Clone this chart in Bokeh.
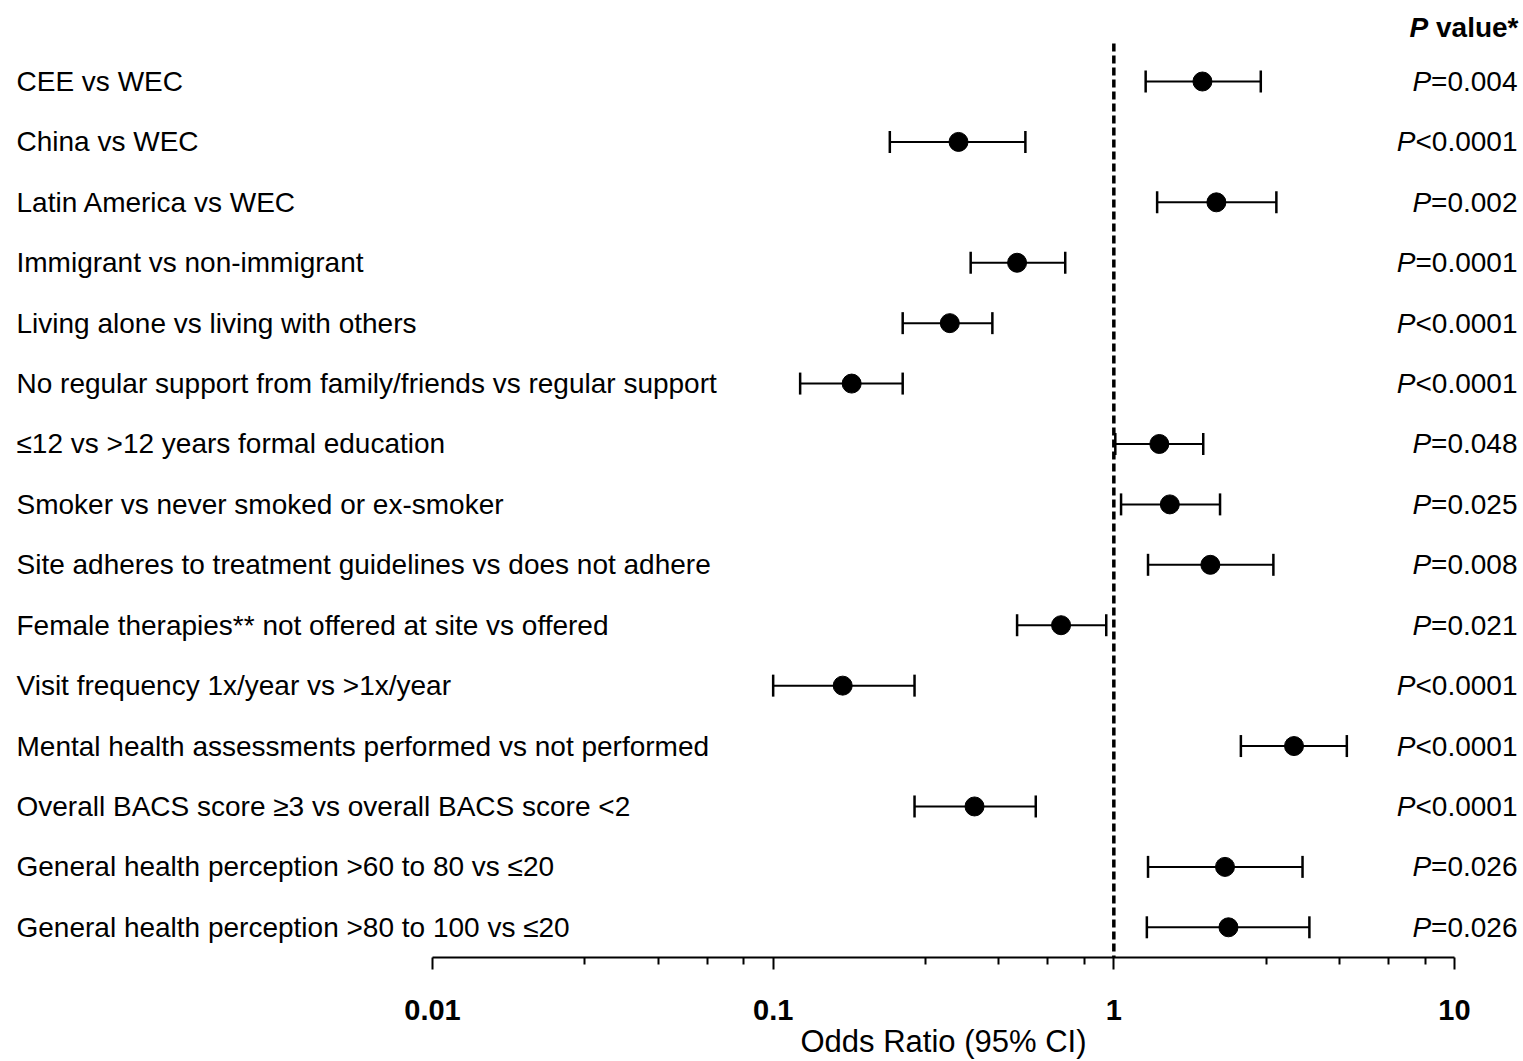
from math import pi, log10
from bokeh.plotting import figure
from bokeh.models import Range1d, LinearScale, FixedTicker, CustomJSTickFormatter
from bokeh.core.properties import value
from bokeh.embed import file_html
from bokeh.resources import INLINE

# ---------------- data ----------------
categories = [
    "CEE vs WEC",
    "China vs WEC",
    "Latin America vs WEC",
    "Immigrant vs non-immigrant",
    "Living alone vs living with others",
    "No regular support from family/friends vs regular support",
    "\u226412 vs >12 years formal education",
    "Smoker vs never smoked or ex-smoker",
    "Site adheres to treatment guidelines vs does not adhere",
    "Female therapies** not offered at site vs offered",
    "Visit frequency 1x/year vs >1x/year",
    "Mental health assessments performed vs not performed",
    "Overall BACS score \u22653 vs overall BACS score <2",
    "General health perception >60 to 80 vs \u226420",
    "General health perception >80 to 100 vs \u226420",
]
odds_ratio = [1.82, 0.35, 2.00, 0.52, 0.33, 0.17, 1.36, 1.46, 1.92, 0.70, 0.16, 3.38, 0.39, 2.12, 2.17]
ci_lower = [1.24, 0.22, 1.34, 0.38, 0.24, 0.12, 1.01, 1.05, 1.26, 0.52, 0.10, 2.36, 0.26, 1.26, 1.25]
ci_upper = [2.70, 0.55, 3.00, 0.72, 0.44, 0.24, 1.83, 2.05, 2.94, 0.95, 0.26, 4.83, 0.59, 3.58, 3.75]
p_sign = ["=", "<", "=", "=", "<", "<", "=", "=", "=", "=", "<", "<", "<", "=", "="]
p_value = ["0.004", "0.0001", "0.002", "0.0001", "0.0001", "0.0001", "0.048", "0.025",
           "0.008", "0.021", "0.0001", "0.0001", "0.0001", "0.026", "0.026"]
major_ticks = [0.01, 0.1, 1, 10]
tick_labels = ["0.01", "0.1", "1", "10"]
minor_ticks = [0.028, 0.046, 0.064, 0.082, 0.28, 0.46, 0.64, 0.82, 2.8, 4.6, 6.4, 8.2]
x_title = "Odds Ratio (95% CI)"
p_header_italic = "P"
p_header_rest = "value*"
ref_value = 1

# ---------------- layout (canvas pixels) ----------------
W, H = 1523, 1061
AXIS_LEFT, AXIS_RIGHT = 432, 1454   # canvas x of 0.01 and 10
AXIS_Y = 957                        # canvas y of the x axis line
FIRST_ROW_Y = 81                    # canvas y of the first row
REF_TOP = 43                        # canvas y where the dashed line starts
LABEL_X = 16
PVAL_RIGHT = 1517
HEADER_Y = 27
TITLE_Y = 1041
FONT = "Liberation Sans"
FS = 28

n = len(categories)
rows = list(range(1, n + 1))

decade_px = (AXIS_RIGHT - AXIS_LEFT) / (log10(major_ticks[-1]) - log10(major_ticks[0]))
x_lo = 10 ** (log10(major_ticks[0]) - AXIS_LEFT / decade_px)
x_hi = 10 ** (log10(major_ticks[-1]) + (W - AXIS_RIGHT) / decade_px)
row_px = (AXIS_Y - FIRST_ROW_Y) / (n + 0.5 - 1)
y_top = 1 - FIRST_ROW_Y / row_px
y_bottom = n + 0.5 + (H - AXIS_Y) / row_px

# Arial / Liberation Sans advance widths (1/1000 em)
ADV = {"=": 584, "<": 584, ".": 278, " ": 278}
for d in "0123456789":
    ADV[d] = 556
ADV_BOLD = {"v": 556, "a": 556, "l": 278, "u": 611, "e": 556, "*": 389, " ": 278}


def text_width(s, size, table=ADV):
    return sum(table.get(c, 556) for c in s) * size / 1000.0


p = figure(width=W, height=H, x_axis_type="log",
           x_range=Range1d(x_lo, x_hi), y_range=Range1d(y_bottom, y_top),
           y_axis_location=None, toolbar_location=None, output_backend="svg",
           min_border_left=0, min_border_right=0, min_border_top=0, min_border_bottom=0)
p.extra_x_ranges = {"px": Range1d(0, W)}
p.extra_x_scales = {"px": LinearScale()}
p.extra_y_ranges = {"py": Range1d(H, 0)}
p.extra_y_scales = {"py": LinearScale()}
p.outline_line_color = None
p.background_fill_color = "white"
p.border_fill_color = "white"
p.grid.visible = False

# axis (drawn at the bottom of the rows)
ax = p.xaxis[0]
ax.fixed_location = n + 0.5
ax.bounds = (major_ticks[0], major_ticks[-1])
ax.ticker = FixedTicker(ticks=major_ticks, minor_ticks=minor_ticks)
ax.formatter = CustomJSTickFormatter(args=dict(vals=major_ticks, labels=tick_labels), code="""
    for (let i = 0; i < vals.length; i++) {
        if (Math.abs(Math.log10(tick) - Math.log10(vals[i])) < 1e-6) { return labels[i]; }
    }
    return "";
""")
ax.axis_line_width = 2
ax.axis_line_color = "black"
ax.major_tick_line_width = 2
ax.minor_tick_line_width = 2
ax.major_tick_line_color = "black"
ax.minor_tick_line_color = "black"
ax.major_tick_out = 12
ax.major_tick_in = 0
ax.minor_tick_out = 7
ax.minor_tick_in = 0
ax.major_label_text_font = FONT
ax.major_label_text_font_size = "29px"
ax.major_label_text_font_style = "bold"
ax.major_label_text_color = "black"
ax.major_label_standoff = 30

# axis title
p.text(x=[(AXIS_LEFT + AXIS_RIGHT) / 2], y=[TITLE_Y], text=[x_title],
       x_range_name="px", y_range_name="py", text_font=value(FONT),
       text_font_size=value("31px"), text_color="black", text_align="center",
       text_baseline="middle")

# reference line at OR = 1
p.segment(x0=[ref_value], x1=[ref_value], y0=[REF_TOP], y1=[AXIS_Y], y_range_name="py",
          line_color="black", line_width=3.5, line_dash="8 4")

# error bars
p.segment(x0=ci_lower, y0=rows, x1=ci_upper, y1=rows, line_color="black", line_width=2)
p.scatter(x=ci_lower + ci_upper, y=rows + rows, marker="dash", angle=pi / 2,
          size=22, line_color="black", line_width=2.5)
# points
p.scatter(x=odds_ratio, y=rows, size=19, fill_color="black", line_color="black", line_width=1)

# row labels
p.text(x=[LABEL_X] * n, y=rows, text=categories, x_range_name="px",
       text_font=value(FONT), text_font_size=value(f"{FS}px"), text_color="black",
       text_align="left", text_baseline="middle")

# p-values: italic "P" followed by the upright rest
rests = [s + v for s, v in zip(p_sign, p_value)]
p.text(x=[PVAL_RIGHT] * n, y=rows, text=rests, x_range_name="px",
       text_font=value(FONT), text_font_size=value(f"{FS}px"), text_color="black",
       text_align="right", text_baseline="middle")
p.text(x=[PVAL_RIGHT - text_width(r, FS) for r in rests], y=rows, text=["P"] * n,
       x_range_name="px", text_font=value(FONT), text_font_size=value(f"{FS}px"),
       text_font_style="italic", text_color="black", text_align="right",
       text_baseline="middle")

# header "P value*"
hdr_right = PVAL_RIGHT + 1
p.text(x=[hdr_right], y=[HEADER_Y], text=[p_header_rest], x_range_name="px",
       y_range_name="py", text_font=value(FONT), text_font_size=value(f"{FS}px"),
       text_font_style="bold", text_color="black", text_align="right",
       text_baseline="middle")
p.text(x=[hdr_right - text_width(" " + p_header_rest, FS, ADV_BOLD)], y=[HEADER_Y],
       text=[p_header_italic], x_range_name="px", y_range_name="py",
       text_font=value(FONT), text_font_size=value(f"{FS}px"),
       text_font_style="bold italic", text_color="black", text_align="right",
       text_baseline="middle")

open("out.html", "w").write(file_html(p, INLINE))
